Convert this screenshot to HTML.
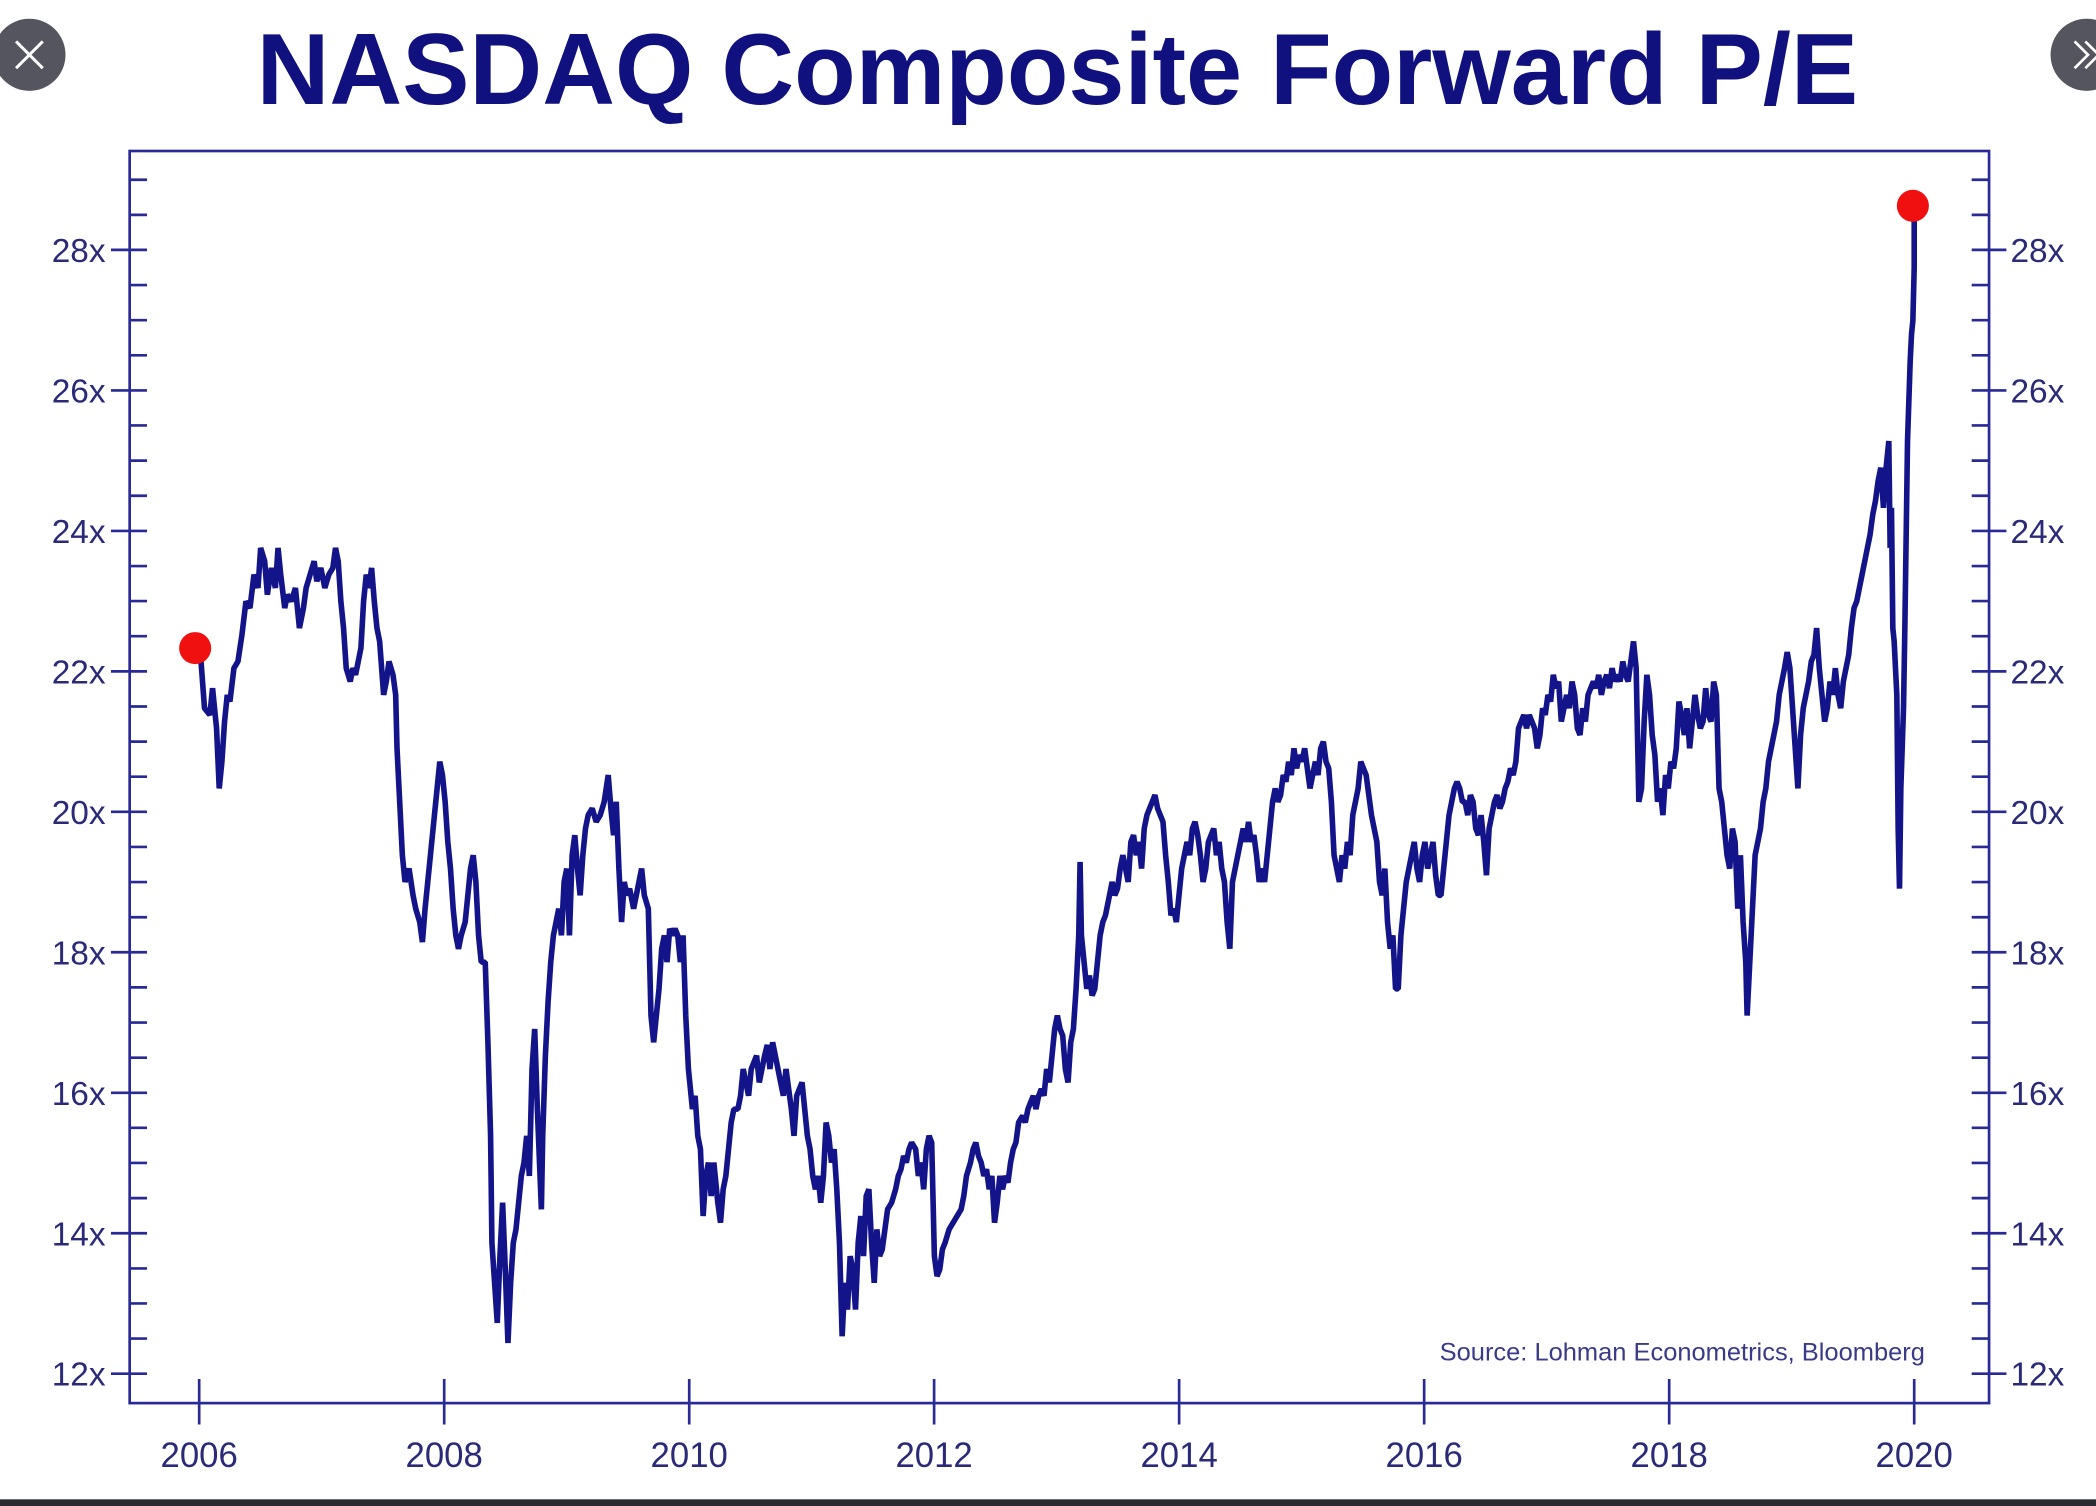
<!DOCTYPE html>
<html><head><meta charset="utf-8"><style>
html,body{margin:0;padding:0;background:#fff;width:2096px;height:1506px;overflow:hidden}
svg{display:block}
text{font-family:"Liberation Sans",Arial,sans-serif}
</style></head><body>
<svg width="2096" height="1506" viewBox="0 0 1568 1127" preserveAspectRatio="none" xmlns="http://www.w3.org/2000/svg">
<rect x="0" y="0" width="1568" height="1127" fill="#fff"/>
<text x="791" y="78" text-anchor="middle" font-size="76" font-weight="bold" fill="#10107e" textLength="1198" lengthAdjust="spacingAndGlyphs">NASDAQ Composite Forward P/E</text>
<circle cx="22" cy="41" r="27" fill="#55555f"/>
<path d="M12 31 L32 51 M32 31 L12 51" stroke="#fff" stroke-width="2.2"/>
<circle cx="1561" cy="41" r="27" fill="#55555f"/>
<path d="M1552 31 L1562 41 L1552 51 M1560 31 L1570 41 L1560 51" stroke="#fff" stroke-width="2" fill="none"/>
<rect x="0" y="1122" width="1568" height="5" fill="#2b2b33"/>
<rect x="97" y="113" width="1391" height="937" fill="none" stroke="#2a2a96" stroke-width="2"/>
<g stroke="#2a2a96" stroke-width="2" fill="none">
<path d="M97 1028h13M97 1001.7h13M97 975.4h13M97 949.2h13M97 922.9h13M97 896.6h13M97 870.3h13M97 844h13M97 817.8h13M97 791.5h13M97 765.2h13M97 738.9h13M97 712.6h13M97 686.4h13M97 660.1h13M97 633.8h13M97 607.5h13M97 581.2h13M97 555h13M97 528.7h13M97 502.4h13M97 476.1h13M97 449.8h13M97 423.6h13M97 397.3h13M97 371h13M97 344.7h13M97 318.4h13M97 292.2h13M97 265.9h13M97 239.6h13M97 213.3h13M97 187h13M97 160.8h13M97 134.5h13"/>
<path d="M83 1028h14M83 922.9h14M83 817.8h14M83 712.6h14M83 607.5h14M83 502.4h14M83 397.3h14M83 292.2h14M83 187h14"/>
<path d="M1475 1028h13M1475 1001.7h13M1475 975.4h13M1475 949.2h13M1475 922.9h13M1475 896.6h13M1475 870.3h13M1475 844h13M1475 817.8h13M1475 791.5h13M1475 765.2h13M1475 738.9h13M1475 712.6h13M1475 686.4h13M1475 660.1h13M1475 633.8h13M1475 607.5h13M1475 581.2h13M1475 555h13M1475 528.7h13M1475 502.4h13M1475 476.1h13M1475 449.8h13M1475 423.6h13M1475 397.3h13M1475 371h13M1475 344.7h13M1475 318.4h13M1475 292.2h13M1475 265.9h13M1475 239.6h13M1475 213.3h13M1475 187h13M1475 160.8h13M1475 134.5h13"/>
<path d="M1488 1028h13M1488 922.9h13M1488 817.8h13M1488 712.6h13M1488 607.5h13M1488 502.4h13M1488 397.3h13M1488 292.2h13M1488 187h13"/>
<path d="M149 1032v34M332.3 1032v34M515.6 1032v34M698.8 1032v34M882.1 1032v34M1065.4 1032v34M1248.7 1032v34M1432 1032v34"/>
</g>
<g font-size="25" fill="#2a2a78" text-anchor="end">
<text x="79" y="1037">12x</text><text x="79" y="932">14x</text><text x="79" y="827">16x</text><text x="79" y="721.6">18x</text><text x="79" y="616.5">20x</text><text x="79" y="511.4">22x</text><text x="79" y="406.3">24x</text><text x="79" y="301.2">26x</text><text x="79" y="196">28x</text>
</g>
<g font-size="25" fill="#2a2a78">
<text x="1504" y="1037">12x</text><text x="1504" y="932">14x</text><text x="1504" y="827">16x</text><text x="1504" y="721.6">18x</text><text x="1504" y="616.5">20x</text><text x="1504" y="511.4">22x</text><text x="1504" y="406.3">24x</text><text x="1504" y="301.2">26x</text><text x="1504" y="196">28x</text>
</g>
<g font-size="26" fill="#2a2a78" text-anchor="middle">
<text x="149" y="1098">2006</text><text x="332.3" y="1098">2008</text><text x="515.6" y="1098">2010</text><text x="698.8" y="1098">2012</text><text x="882.1" y="1098">2014</text><text x="1065.4" y="1098">2016</text><text x="1248.7" y="1098">2018</text><text x="1432" y="1098">2020</text>
</g>
<text x="1440" y="1018" font-size="19" fill="#3a3a88" text-anchor="end" textLength="363" lengthAdjust="spacingAndGlyphs">Source: Lohman Econometrics, Bloomberg</text>
<polyline fill="none" stroke="#14148a" stroke-width="4.2" stroke-linejoin="bevel" stroke-linecap="square" points="146,485 150,490 153,530 157,535 159,515 162,545 164,590 166,570 168,540 170,520 172,525 175,500 178,495 181,475 184,450 187,455 190,430 193,440 195,410 198,420 200,445 203,425 206,440 208,410 210,430 213,455 215,445 218,450 221,440 224,470 227,455 229,440 232,430 235,420 237,435 240,425 243,440 246,430 249,425 251,410 253,420 255,450 257,470 259,500 262,510 264,500 266,505 268,495 270,485 272,450 274,430 276,440 278,425 280,450 282,470 284,480 287,520 289,510 291,495 294,505 296,520 297,560 299,600 301,640 303,660 306,650 309,670 311,680 314,690 316,705 318,680 320,660 322,640 325,610 327,590 329,570 331,580 333,600 335,630 337,650 339,680 341,700 343,710 345,700 348,690 350,670 352,650 354,640 356,660 358,700 360,720 363,720 365,780 367,850 368,930 370,960 372,990 374,940 376,900 378,950 380,1005 382,960 384,930 386,920 388,900 390,880 392,870 394,850 396,880 398,800 400,770 402,830 404,880 405,905 406,850 408,790 410,750 412,720 414,700 416,690 418,680 420,700 422,660 424,650 426,700 428,640 430,625 432,650 434,670 436,640 438,620 440,610 443,605 446,615 449,610 452,600 455,580 457,605 459,625 461,600 463,650 465,690 467,660 469,670 471,665 474,680 476,670 478,660 480,650 482,670 485,680 487,760 489,780 491,760 493,740 495,710 497,700 499,720 501,695 503,700 505,695 507,700 509,720 511,700 513,760 515,800 518,830 520,820 522,850 524,860 526,910 528,880 530,870 532,895 534,870 537,900 539,915 541,890 543,880 545,860 547,840 549,830 552,830 554,820 556,800 558,810 560,820 562,800 564,795 566,790 568,810 570,800 572,790 574,782 576,800 578,780 580,790 582,800 584,810 586,820 588,800 590,815 592,830 594,850 596,820 598,815 600,810 602,830 604,850 606,860 608,880 610,890 612,880 614,900 616,880 618,840 620,850 622,870 624,860 626,890 628,930 630,1000 632,960 634,980 636,940 638,950 640,980 642,930 644,910 646,940 648,895 650,890 652,930 654,960 656,920 658,940 660,935 662,920 664,905 667,900 670,890 672,880 674,875 676,865 678,870 680,860 682,855 685,860 687,880 689,870 691,890 693,860 695,850 697,855 699,940 701,955 703,950 705,935 707,930 710,920 713,915 716,910 719,905 721,895 723,880 726,870 728,860 730,855 732,865 734,870 736,880 738,875 740,890 742,880 744,915 746,900 748,880 750,890 752,880 754,885 756,870 758,860 760,855 762,840 765,835 767,840 769,830 771,825 773,820 775,830 777,820 779,815 781,820 783,800 785,810 787,790 789,770 791,760 793,770 795,775 797,800 799,810 801,780 803,770 805,740 807,700 808,645 809,700 811,720 813,740 815,730 817,745 819,740 821,720 823,700 825,690 827,685 830,670 832,660 834,670 836,665 838,650 840,640 842,650 844,660 846,630 848,625 850,640 852,630 854,650 856,620 858,610 860,605 862,600 864,595 866,605 868,610 870,615 872,640 874,660 876,685 878,680 880,690 882,670 884,650 886,640 888,630 890,640 892,620 894,615 896,625 898,640 900,660 902,650 904,630 906,625 908,620 910,640 912,630 914,650 916,660 918,690 920,710 922,660 924,650 926,640 928,630 930,620 932,630 934,615 936,630 938,625 940,640 942,660 944,650 946,660 948,640 950,620 952,600 954,590 956,600 958,595 960,580 962,585 964,570 966,580 968,560 970,575 972,565 974,570 976,560 978,575 980,590 982,580 984,570 986,580 988,560 990,555 992,570 994,575 996,600 998,640 1000,650 1002,660 1004,640 1006,650 1008,630 1010,640 1012,610 1014,600 1016,590 1018,570 1020,575 1022,580 1024,595 1026,610 1028,620 1030,630 1032,660 1034,670 1036,650 1038,690 1040,710 1042,700 1044,740 1046,740 1048,700 1050,680 1052,660 1054,650 1056,640 1058,630 1060,650 1062,660 1064,640 1066,630 1068,650 1070,640 1072,630 1074,655 1076,670 1078,670 1080,650 1082,630 1084,610 1086,600 1088,590 1090,585 1092,590 1094,600 1096,600 1098,610 1100,595 1102,600 1104,620 1106,625 1108,610 1110,630 1112,655 1114,620 1116,610 1118,600 1120,595 1122,605 1124,600 1126,590 1128,585 1130,575 1132,580 1134,570 1136,545 1138,540 1140,535 1142,545 1144,535 1146,540 1148,545 1150,560 1152,550 1154,530 1156,535 1158,520 1160,525 1162,505 1164,515 1166,510 1168,540 1170,530 1172,520 1174,530 1176,510 1178,520 1180,545 1182,550 1184,530 1186,540 1188,520 1190,515 1192,510 1194,515 1196,505 1198,520 1200,510 1202,505 1204,515 1206,500 1208,510 1210,505 1212,510 1214,495 1216,505 1218,510 1220,495 1222,480 1224,500 1226,600 1228,590 1230,540 1232,505 1234,520 1236,550 1238,565 1240,600 1242,590 1244,610 1246,580 1248,590 1250,570 1252,575 1254,560 1256,525 1258,535 1260,550 1262,530 1264,560 1266,540 1268,520 1270,535 1272,545 1274,540 1276,515 1278,535 1280,540 1282,510 1284,520 1286,590 1288,600 1290,620 1292,640 1294,650 1296,620 1298,630 1300,680 1302,640 1304,690 1306,720 1307,760 1309,720 1311,680 1313,640 1315,630 1317,620 1319,600 1321,590 1323,570 1325,560 1327,550 1329,540 1331,520 1333,510 1335,500 1337,488 1339,500 1341,530 1343,560 1345,590 1347,550 1349,530 1351,520 1353,510 1355,495 1357,490 1359,470 1361,500 1363,520 1365,540 1367,530 1369,510 1371,520 1373,500 1375,520 1377,530 1379,510 1381,500 1383,490 1385,470 1387,455 1389,450 1391,440 1393,430 1395,420 1397,410 1399,400 1401,385 1403,375 1405,360 1407,350 1409,380 1411,350 1413,330 1414,410 1415,380 1416,470 1417,480 1419,520 1420,620 1421,665 1422,590 1424,530 1425,470 1426,400 1427,330 1428,300 1429,270 1430,250 1431,240 1432,200 1432,154"/>
<circle cx="146" cy="485" r="12" fill="#f01010"/>
<circle cx="1431" cy="154" r="12" fill="#f01010"/>
</svg>
</body></html>
